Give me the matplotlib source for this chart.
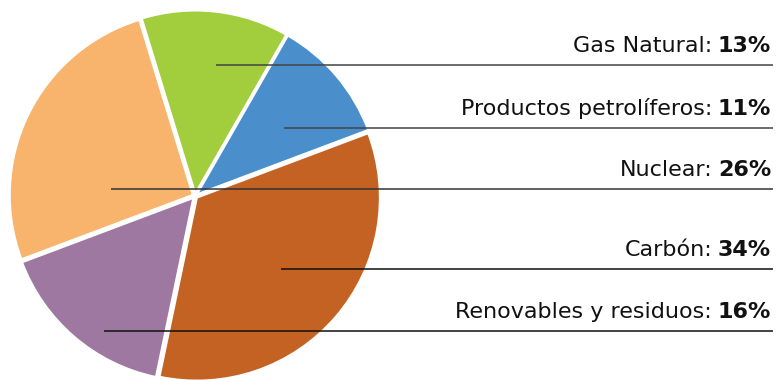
import matplotlib
matplotlib.use("Agg")
import matplotlib.pyplot as plt

# Energy mix shares (%), in counterclockwise order starting at the right
sources = ["Productos petrolíferos", "Gas Natural", "Nuclear", "Renovables y residuos", "Carbón"]
shares = [11, 13, 26, 16, 34]
colors = ["#4a8fcc", "#a2cd3c", "#f8b46c", "#9e78a0", "#c46224"]

# Label order from top to bottom on the right side
label_order = ["Gas Natural", "Productos petrolíferos", "Nuclear", "Carbón", "Renovables y residuos"]

W, H = 776, 380
fig = plt.figure(figsize=(W / 100, H / 100), dpi=100)
ax = fig.add_axes([0, 0, 1, 1])
ax.set_xlim(0, W)
ax.set_ylim(0, H)
ax.axis("off")

cx, cy, rad = 195, H - 196, 183
ax.pie(shares, colors=colors, startangle=20.6, counterclock=True,
       center=(cx, cy), radius=rad, explode=[2.5] * len(shares),
       wedgeprops=dict(edgecolor="white", linewidth=1.5))
ax.set_xlim(0, W)
ax.set_ylim(0, H)
ax.set_aspect("equal")

# leader lines: start point inside each slice (pixels from top-left), end at right edge
leader_start = {
    "Gas Natural": (216, 65),
    "Productos petrolíferos": (284, 128),
    "Nuclear": (111, 189),
    "Carbón": (281, 269),
    "Renovables y residuos": (104, 331),
}
line_colors = {"Gas Natural": "#444444", "Productos petrolíferos": "#444444",
               "Nuclear": "#333333", "Carbón": "#111111", "Renovables y residuos": "#111111"}
x_end = 773
x_text = 771
fs = 16
family = ["DejaVu Sans"]

share_of = dict(zip(sources, shares))
for name in label_order:
    x0, y0 = leader_start[name]
    yl = H - y0
    ax.plot([x0, x_end], [yl, yl], color=line_colors[name], lw=1.1,
            solid_capstyle="butt", zorder=5)
    val = ax.text(x_text, yl + 9, "%d%%" % share_of[name], ha="right", va="bottom",
                  fontsize=fs, fontweight="bold", family=family, color="#111111")
    ax.annotate(name + ":", xy=(0, 0), xycoords=val, xytext=(-4, 0),
                textcoords="offset points", ha="right", va="bottom",
                fontsize=fs, family=family, color="#111111")

fig.savefig("out.png", dpi=100)
